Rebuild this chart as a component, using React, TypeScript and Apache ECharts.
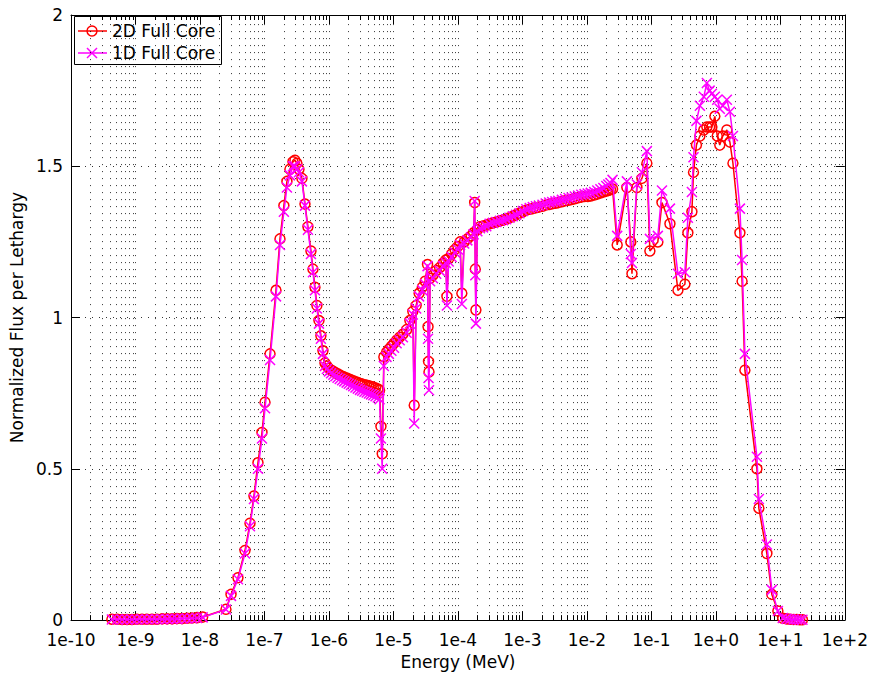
import React, { useEffect, useRef } from "react";
import * as echarts from "echarts";

// Neutron energy grid (MeV) shared by both spectra
const energyMeV = [
  // thermal tail
  4.3e-10, 5.2e-10, 6.2e-10, 7.4e-10, 8.8e-10, 1.05e-9, 1.26e-9, 1.5e-9, 1.8e-9, 2.15e-9,
  2.6e-9, 3.1e-9, 3.7e-9, 4.4e-9, 5.3e-9, 6.3e-9, 7.5e-9, 9.0e-9, 1.1e-8,
  // thermal peak
  2.53e-8, 3.03e-8, 3.88e-8, 4.99e-8, 5.96e-8, 6.87e-8, 7.93e-8, 9.15e-8, 1.02e-7, 1.22e-7,
  1.51e-7, 1.74e-7, 2.0e-7, 2.23e-7, 2.48e-7, 2.77e-7, 2.97e-7, 3.19e-7, 3.43e-7, 3.81e-7,
  4.25e-7, 4.72e-7, 5.26e-7, 5.65e-7, 6.07e-7, 6.5e-7, 7.0e-7, 7.5e-7, 8.07e-7, 8.67e-7,
  // epithermal valley
  9.3e-7, 1.0e-6, 1.08e-6, 1.17e-6, 1.26e-6, 1.36e-6, 1.47e-6, 1.6e-6, 1.73e-6, 1.88e-6,
  2.03e-6, 2.2e-6, 2.38e-6, 2.58e-6, 2.8e-6, 3.03e-6, 3.28e-6, 3.55e-6, 3.85e-6, 4.17e-6,
  4.5e-6, 4.88e-6, 5.28e-6, 5.72e-6, 6.1e-6,
  // resonance region
  6.4e-6, 6.7e-6, 7.1e-6, 7.8e-6, 8.5e-6, 9.3e-6, 1.02e-5, 1.12e-5, 1.25e-5, 1.4e-5,
  1.6e-5, 1.8e-5, 2.0e-5, 2.1e-5, 2.25e-5, 2.5e-5, 2.8e-5, 3.1e-5,
  3.38e-5, 3.44e-5, 3.5e-5, 3.56e-5, 3.7e-5, 4.1e-5, 4.6e-5, 5.2e-5, 5.9e-5, 6.5e-5,
  6.75e-5, 7.2e-5, 8.0e-5, 9.0e-5, 1.0e-4, 1.08e-4, 1.15e-4, 1.25e-4, 1.4e-4, 1.6e-4,
  1.75e-4, 1.82e-4, 1.86e-4, 1.9e-4,
  // slowing-down plateau
  2.0e-4, 2.2e-4, 2.45e-4, 2.75e-4, 3.1e-4, 3.5e-4, 3.95e-4, 4.5e-4, 5.0e-4, 5.6e-4,
  6.3e-4, 7.1e-4, 8.0e-4, 9.0e-4, 1.02e-3, 1.15e-3, 1.3e-3, 1.45e-3, 1.62e-3, 1.8e-3,
  2.05e-3, 2.3e-3, 2.6e-3, 2.9e-3, 3.25e-3, 3.6e-3, 4.1e-3, 4.6e-3, 5.2e-3, 5.8e-3,
  6.5e-3, 7.3e-3, 8.2e-3, 9.2e-3, 1.03e-2, 1.15e-2, 1.3e-2, 1.45e-2, 1.62e-2, 1.8e-2,
  2.0e-2, 2.15e-2, 2.32e-2, 2.5e-2,
  // fast range
  2.95e-2, 4.17e-2, 4.8e-2, 5.0e-2, 5.96e-2, 7.13e-2, 8.51e-2, 9.48e-2, 0.126, 0.146,
  0.194, 0.258, 0.331, 0.368, 0.425, 0.45, 0.5, 0.565, 0.65, 0.725,
  0.8, 0.867, 0.964, 1.05, 1.15, 1.28, 1.48, 1.65, 1.84, 2.36,
  2.55, 2.82, 4.33, 4.64, 6.18, 7.38, 9.15, 10.9, 12.5, 14.0,
  16.0, 18.0, 20.0, 22.0,
];

// Normalized flux per lethargy, 2D full-core calculation
const flux2D = [
  0.003, 0.003, 0.002, 0.002, 0.002, 0.003, 0.003, 0.003, 0.003, 0.003,
  0.004, 0.004, 0.004, 0.005, 0.005, 0.006, 0.007, 0.008, 0.01,
  0.036, 0.085, 0.14, 0.23, 0.32, 0.41, 0.52, 0.62, 0.72, 0.88,
  1.09, 1.26, 1.37, 1.45, 1.49, 1.515, 1.52, 1.51, 1.49, 1.46,
  1.375, 1.3, 1.22, 1.16, 1.1, 1.04, 0.99, 0.94, 0.89, 0.85,
  0.84, 0.832, 0.826, 0.822, 0.818, 0.814, 0.81, 0.806, 0.803, 0.8,
  0.797, 0.794, 0.791, 0.788, 0.785, 0.782, 0.78, 0.778, 0.776, 0.774,
  0.772, 0.77, 0.767, 0.764, 0.76,
  0.64, 0.55, 0.87, 0.885, 0.895, 0.905, 0.915, 0.925, 0.935, 0.945,
  0.96, 0.99, 1.02, 0.71, 1.04, 1.08, 1.1, 1.12,
  1.175, 0.97, 0.855, 0.82, 1.13, 1.14, 1.155, 1.165, 1.18, 1.19,
  1.07, 1.195, 1.21, 1.225, 1.235, 1.25, 1.08, 1.25, 1.26, 1.27,
  1.28, 1.38, 1.16, 1.025,
  1.29, 1.3, 1.302, 1.305, 1.31, 1.313, 1.316, 1.32, 1.322, 1.325,
  1.33, 1.335, 1.34, 1.345, 1.35, 1.355, 1.358, 1.36, 1.363, 1.365,
  1.368, 1.372, 1.374, 1.376, 1.378, 1.38, 1.383, 1.386, 1.388, 1.39,
  1.393, 1.396, 1.398, 1.4, 1.4, 1.402, 1.405, 1.408, 1.412, 1.415,
  1.418, 1.42, 1.423, 1.425,
  1.24, 1.43, 1.25, 1.145, 1.43, 1.46, 1.51, 1.22, 1.25, 1.38,
  1.31, 1.09, 1.11, 1.28, 1.35, 1.48, 1.57, 1.6, 1.62, 1.63,
  1.63, 1.63, 1.665, 1.6, 1.57, 1.6, 1.62, 1.58, 1.51, 1.28,
  1.12, 0.826, 0.5, 0.37, 0.22, 0.085, 0.03, 0.006, 0.004, 0.003,
  0.002, 0.002, 0.001, 0.001,
];

// Normalized flux per lethargy, 1D full-core calculation
const flux1D = [
  0.002, 0.002, 0.002, 0.002, 0.002, 0.002, 0.003, 0.003, 0.003, 0.003,
  0.003, 0.004, 0.004, 0.004, 0.005, 0.005, 0.006, 0.007, 0.009,
  0.035, 0.08, 0.135, 0.22, 0.31, 0.4, 0.5, 0.6, 0.7, 0.86,
  1.07, 1.24, 1.35, 1.43, 1.47, 1.5, 1.5, 1.49, 1.48, 1.45,
  1.37, 1.29, 1.21, 1.15, 1.09, 1.03, 0.98, 0.93, 0.88, 0.84,
  0.83, 0.822, 0.816, 0.811, 0.806, 0.801, 0.797, 0.793, 0.789, 0.785,
  0.781, 0.777, 0.773, 0.769, 0.765, 0.761, 0.758, 0.755, 0.752, 0.749,
  0.746, 0.743, 0.74, 0.736, 0.73,
  0.6, 0.5, 0.84, 0.87, 0.88, 0.89, 0.9, 0.915, 0.925, 0.935,
  0.95, 0.98, 1.01, 0.65, 1.03, 1.07, 1.09, 1.11,
  1.17, 0.93, 0.8, 0.76, 1.12, 1.13, 1.145, 1.155, 1.17, 1.18,
  1.04, 1.185, 1.2, 1.215, 1.225, 1.24, 1.045, 1.245, 1.255, 1.265,
  1.275, 1.385, 1.14, 0.98,
  1.285, 1.295, 1.298, 1.302, 1.31, 1.313, 1.316, 1.32, 1.322, 1.325,
  1.33, 1.335, 1.34, 1.345, 1.352, 1.358, 1.362, 1.365, 1.368, 1.37,
  1.373, 1.377, 1.38, 1.382, 1.384, 1.386, 1.389, 1.392, 1.395, 1.397,
  1.4, 1.403, 1.406, 1.408, 1.41, 1.412, 1.415, 1.42, 1.424, 1.428,
  1.435, 1.44, 1.445, 1.455,
  1.27, 1.45, 1.21, 1.18, 1.44, 1.48, 1.55, 1.26, 1.27, 1.42,
  1.36, 1.145, 1.15, 1.33, 1.415, 1.53, 1.65, 1.7, 1.73, 1.775,
  1.75, 1.74, 1.73, 1.72, 1.69, 1.7, 1.72, 1.68, 1.6, 1.36,
  1.19, 0.88, 0.54, 0.4, 0.25, 0.1, 0.03, 0.007, 0.004, 0.003,
  0.002, 0.002, 0.001, 0.001,
];

const xTickLabels = [
  "1e-10", "1e-9", "1e-8", "1e-7", "1e-6", "1e-5", "1e-4",
  "1e-3", "1e-2", "1e-1", "1e+0", "1e+1", "1e+2",
];
const xMinExp = -10;
const xMaxExp = 2;
const yTicks = [0, 0.5, 1, 1.5, 2];

const FONT = "DejaVu Sans";
const RED = "#ff0000";
const MAGENTA = "#ff00ff";

// decade and sub-decade positions (log10 space) for the x grid and ticks
const xGridPositions: number[][] = [];
for (let d = xMinExp; d < xMaxExp; d++) {
  for (let k = 1; k <= 9; k++) {
    xGridPositions.push([d + Math.log10(k), k === 1 ? 1 : 0]);
  }
}
xGridPositions.push([xMaxExp, 1]);

export default function App() {
  const ref = useRef<HTMLDivElement>(null);

  useEffect(() => {
    if (!ref.current) return;
    const chart = echarts.init(ref.current, null, { renderer: "svg" });

    const series2D = energyMeV.map((e, i) => [Math.log10(e), flux2D[i]]);
    const series1D = energyMeV.map((e, i) => [Math.log10(e), flux1D[i]]);

    const crossPath = "path://M0,0L10,10M10,0L0,10";

    chart.setOption({
      animation: false,
      backgroundColor: "#ffffff",
      textStyle: { fontFamily: FONT },
      grid: { left: 71, right: 26, top: 15, bottom: 52, show: false },
      xAxis: [
        {
          type: "value",
          min: xMinExp,
          max: xMaxExp,
          interval: 1,
          position: "bottom",
          name: "Energy (MeV)",
          nameLocation: "middle",
          nameGap: 31,
          nameTextStyle: { fontFamily: FONT, fontSize: 17, color: "#000" },
          axisLine: { show: true, onZero: false, lineStyle: { color: "#000", width: 1 } },
          axisTick: { show: false },
          splitLine: { show: false },
          axisLabel: {
            margin: 11,
            fontFamily: FONT,
            fontSize: 17,
            color: "#000",
            formatter: (v: number) => xTickLabels[Math.round(v) - xMinExp] ?? "",
          },
        },
        {
          type: "value",
          min: xMinExp,
          max: xMaxExp,
          interval: 1,
          position: "top",
          axisLine: { show: true, onZero: false, lineStyle: { color: "#000", width: 1 } },
          axisTick: { show: false },
          axisLabel: { show: false },
          splitLine: { show: false },
        },
      ],
      yAxis: [
        {
          type: "value",
          min: yTicks[0],
          max: yTicks[yTicks.length - 1],
          interval: 0.5,
          name: "Normalized Flux per Lethargy",
          nameLocation: "middle",
          nameGap: 40,
          nameTextStyle: { fontFamily: FONT, fontSize: 17, color: "#000" },
          axisLine: { show: true, onZero: false, lineStyle: { color: "#000", width: 1 } },
          axisTick: { show: true, inside: true, length: 9, lineStyle: { color: "#000" } },
          axisLabel: { margin: 8, fontFamily: FONT, fontSize: 17, color: "#000" },
          splitLine: { show: true, lineStyle: { color: "#000", width: 1, type: [1, 6], opacity: 0.8 } },
        },
        {
          type: "value",
          min: yTicks[0],
          max: yTicks[yTicks.length - 1],
          interval: 0.5,
          position: "right",
          axisLine: { show: true, onZero: false, lineStyle: { color: "#000", width: 1 } },
          axisTick: { show: true, inside: true, length: 9, lineStyle: { color: "#000" } },
          axisLabel: { show: false },
          splitLine: { show: false },
        },
      ],
      series: [
        {
          type: "custom",
          name: "xgrid",
          silent: true,
          z: 1,
          clip: false,
          data: xGridPositions,
          renderItem: (_params: any, api: any) => {
            const xv = api.value(0);
            const major = api.value(1) === 1;
            const pb = api.coord([xv, 0]);
            const pt = api.coord([xv, 2]);
            const x = Math.round(pb[0]) + 0.5;
            const len = major ? 9 : 5;
            const children: any[] = [];
            if (xv > xMinExp && xv < xMaxExp) {
              children.push({
                type: "line",
                shape: { x1: x, y1: pb[1], x2: x, y2: pt[1] },
                style: { stroke: "rgba(0,0,0,0.8)", lineWidth: 1, lineDash: [1, 6] },
              });
            }
            children.push({
              type: "line",
              shape: { x1: x, y1: pb[1], x2: x, y2: pb[1] - len },
              style: { stroke: "#000", lineWidth: 1 },
            });
            children.push({
              type: "line",
              shape: { x1: x, y1: pt[1], x2: x, y2: pt[1] + len },
              style: { stroke: "#000", lineWidth: 1 },
            });
            return { type: "group", children };
          },
        },
        {
          type: "line",
          name: "2D Full Core",
          data: series2D,
          z: 3,
          clip: false,
          showAllSymbol: true,
          symbol: "circle",
          symbolSize: 10,
          lineStyle: { color: RED, width: 1.5 },
          itemStyle: { color: "rgba(0,0,0,0)", borderColor: RED, borderWidth: 1.5 },
        },
        {
          type: "line",
          name: "1D Full Core",
          data: series1D,
          z: 4,
          clip: false,
          showAllSymbol: true,
          symbol: crossPath,
          symbolSize: 10,
          lineStyle: { color: MAGENTA, width: 1.5 },
          itemStyle: { color: "rgba(0,0,0,0)", borderColor: MAGENTA, borderWidth: 1.5 },
        },
      ],
      graphic: [
        {
          type: "group",
          left: 74,
          top: 16,
          z: 100,
          children: [
            {
              type: "rect",
              shape: { x: 0.5, y: 0.5, width: 147, height: 48 },
              style: { fill: "#fff", stroke: "#000", lineWidth: 1 },
            },
            { type: "line", shape: { x1: 4, y1: 15, x2: 33, y2: 15 }, style: { stroke: RED, lineWidth: 1.5 } },
            { type: "circle", shape: { cx: 18, cy: 15, r: 5 }, style: { fill: "none", stroke: RED, lineWidth: 1.5 } },
            {
              type: "text",
              x: 38,
              y: 15,
              style: { text: "2D Full Core", font: `17px '${FONT}'`, fill: "#000", verticalAlign: "middle" },
            },
            { type: "line", shape: { x1: 4, y1: 37, x2: 33, y2: 37 }, style: { stroke: MAGENTA, lineWidth: 1.5 } },
            { type: "line", shape: { x1: 13, y1: 32, x2: 23, y2: 42 }, style: { stroke: MAGENTA, lineWidth: 1.5 } },
            { type: "line", shape: { x1: 23, y1: 32, x2: 13, y2: 42 }, style: { stroke: MAGENTA, lineWidth: 1.5 } },
            {
              type: "text",
              x: 38,
              y: 37,
              style: { text: "1D Full Core", font: `17px '${FONT}'`, fill: "#000", verticalAlign: "middle" },
            },
          ],
        },
      ],
    });

    return () => chart.dispose();
  }, []);

  return (
    <div
      ref={ref}
      style={{ position: "absolute", left: 0, top: 0, width: 871, height: 675, background: "#fff" }}
    />
  );
}
